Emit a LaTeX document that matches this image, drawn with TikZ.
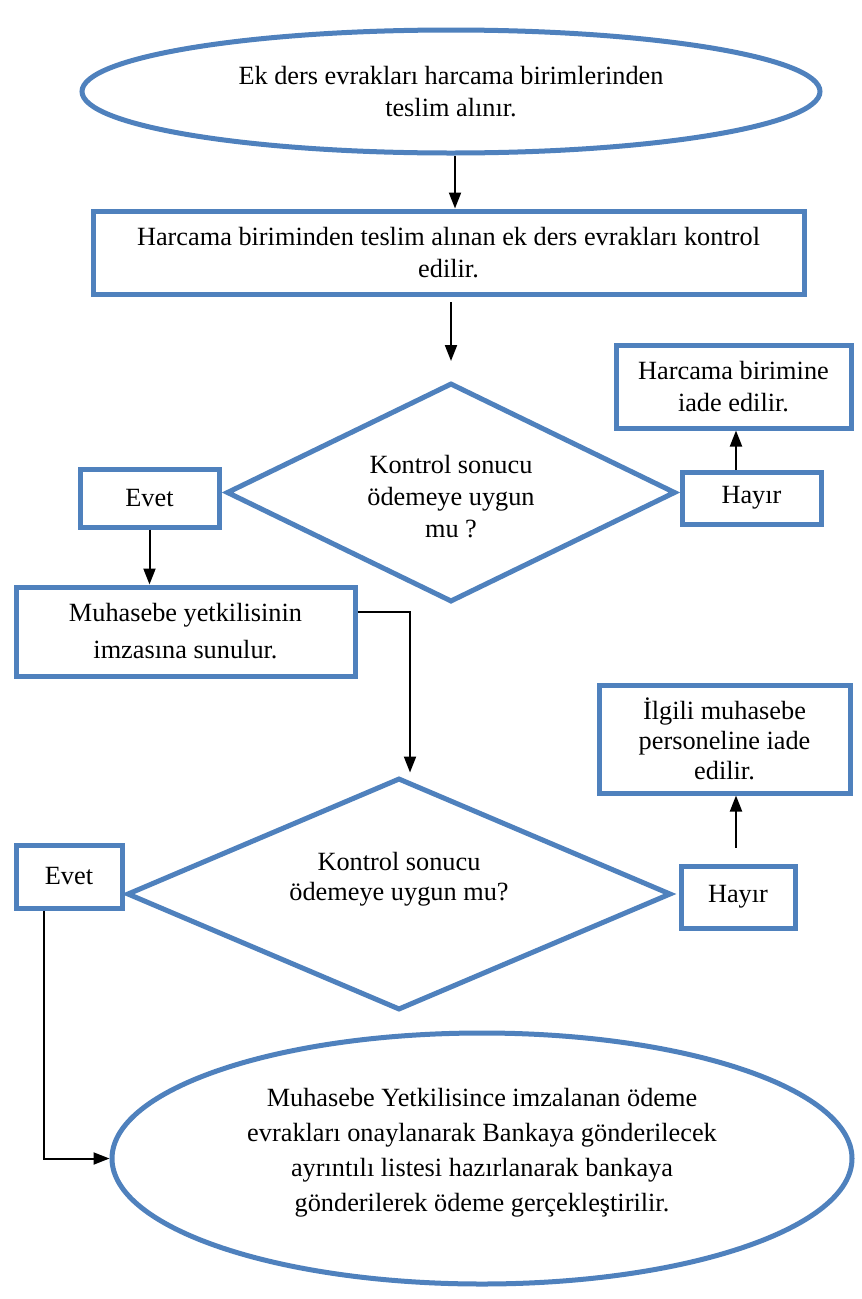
\documentclass[tikz,border=0pt]{standalone}
\usepackage{fontspec}
\setmainfont{Liberation Serif}
\usetikzlibrary{shapes.geometric,arrows.meta}
\definecolor{bl}{HTML}{4F81BD}
\begin{document}
\begin{tikzpicture}[x=1pt,y=-1pt,
  shp/.style={draw=bl, line width=5pt, inner sep=0pt, align=center, font=\fontsize{26.3}{32}\selectfont},
  box/.style={shp, rectangle},
  ell/.style={shp, ellipse},
  dia/.style={shp, diamond},
  txt/.style={align=center, inner sep=0pt, font=\fontsize{26.3}{32}\selectfont},
  arr/.style={line width=2pt, -{Triangle[length=16pt,width=12pt]}}]
\fill[white] (0,0) rectangle (862,1299);
\useasboundingbox (0,0) rectangle (862,1299);

\node[ell, minimum width=738, minimum height=123] (e1) at (451,91.5) {Ek ders evrakları harcama birimlerinden\\teslim alınır.};
\node[box, minimum width=711, minimum height=83] (b2) at (448.5,252.5) {Harcama biriminden teslim alınan ek ders evrakları kontrol\\edilir.};

\node[dia, minimum width=449, minimum height=219] (d1) at (451,492.5) {};
\node[txt] (t1) at (451,497) {Kontrol sonucu\\ödemeye uygun\\mu ?};
\node[box, minimum width=139, minimum height=58] (ev1) at (149.5,498) {Evet};
\node[box, minimum width=139, minimum height=52] (h1) at (751.5,498) {Hayır};
\node[box, minimum width=235, minimum height=83] (hb) at (733.5,386.5) {Harcama birimine\\iade edilir.};
\node[box, minimum width=339, minimum height=89, font=\fontsize{26.3}{37}\selectfont] (mu) at (185.5,631.5) {Muhasebe yetkilisinin\\imzasına sunulur.};

\node[dia, minimum width=544, minimum height=232] (d2) at (399,894) {};
\node[txt, font=\fontsize{26.3}{30}\selectfont] (t2) at (399,879) {Kontrol sonucu\\ödemeye uygun mu?};
\node[box, minimum width=106, minimum height=63] (ev2) at (69,876.5) {Evet};
\node[box, minimum width=114, minimum height=62] (h2) at (738,897) {Hayır};
\node[box, minimum width=251, minimum height=108, font=\fontsize{26.3}{30}\selectfont] (il) at (724.5,739) {İlgili muhasebe\\personeline iade\\edilir.};

\node[ell, minimum width=740, minimum height=251] (e2) at (482,1158.5) {};
\node[txt, font=\fontsize{26.3}{35}\selectfont] (t3) at (482,1153) {Muhasebe Yetkilisince imzalanan ödeme\\evrakları onaylanarak Bankaya gönderilecek\\ayrıntılı listesi hazırlanarak bankaya\\gönderilerek ödeme gerçekleştirilir.};

\coordinate (xa) at (455,0);
\coordinate (f1) at (451,302);
\coordinate (f2) at (451,361);
\coordinate (xb) at (736,0);
\coordinate (k) at (410,612);
\coordinate (xc) at (44,0);

\draw[arr] (e1.south -| xa) -- (b2.north -| xa);
\draw[arr] (f1) -- (f2);
\draw[arr] (h1.north -| xb) -- (hb.south -| xb);
\draw[arr] (ev1.south) -- (mu.north -| ev1.south);
\draw[arr] (mu.east |- k) -- (k) -- ([yshift=3pt]d2.north -| k);
\draw[arr] ([yshift=16pt]h2.north -| xb) -- (il.south -| xb);
\draw[arr] (ev2.south -| xc) |- (e2.west);
\end{tikzpicture}
\end{document}
